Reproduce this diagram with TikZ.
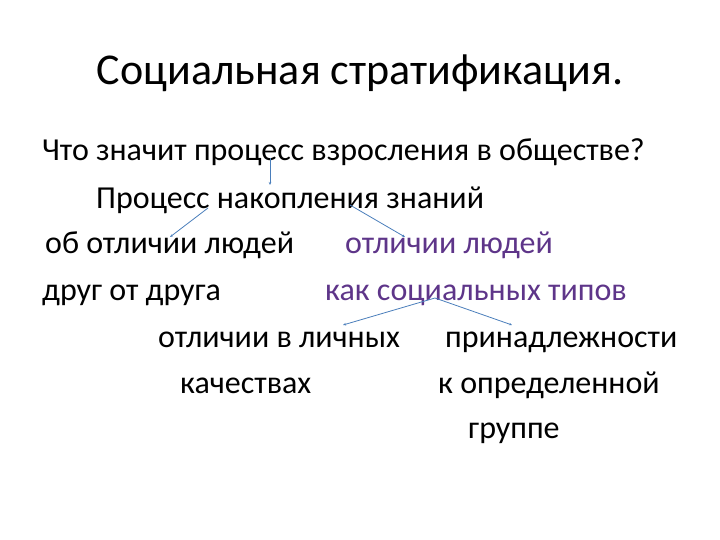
\documentclass[tikz,border=0pt]{standalone}
\usepackage{fontspec}
\setmainfont{Carlito}
\usetikzlibrary{arrows.meta}
\definecolor{lnblue}{HTML}{4A7EBB}
\definecolor{txtpurple}{HTML}{5E3589}
\begin{document}
\begin{tikzpicture}[x=1pt,y=-1pt,
  ttl/.style={font=\fontsize{44}{48}\selectfont, inner sep=0pt, anchor=base},
  txt/.style={font=\fontsize{32}{36}\selectfont, inner sep=0pt, anchor=base west},
  ptxt/.style={txt, text=txtpurple},
  conn/.style={draw=lnblue, line width=0.8pt, -{Stealth[length=3pt,width=2.5pt]}}]
\useasboundingbox (0,0) rectangle (720,540);
\node[ttl] (title) at (360,85) {Социальная стратификация.};
\node[txt] (l1) at (42,161) {Что значит процесс взросления в обществе?};
\node[txt] (l2) at (96,208) {Процесс накопления знаний};
\node[txt] (l3a) at (45,254) {об отличии людей};
\node[ptxt] (l3b) at (345,254) {отличии людей};
\node[txt] (l4a) at (42,300) {друг от друга};
\node[ptxt] (l4b) at (325,300) {как социальных типов};
\node[txt] (l5a) at (158,347) {отличии в личных};
\node[txt] (l5b) at (445,347) {принадлежности};
\node[txt] (l6a) at (180,393) {качествах};
\node[txt] (l6b) at (438,393) {к определенной};
\node[txt] (l7) at (468,438) {группе};
\coordinate (a1s) at (270,158);
\coordinate (a1e) at (270,185);
\coordinate (a2s) at (208,208);
\coordinate (a2e) at (170,237);
\coordinate (a3s) at (350,205);
\coordinate (a3e) at (405,237);
\coordinate (a4s) at (435,298);
\coordinate (a4l) at (343,325);
\coordinate (a4r) at (512,325);
\draw[conn] (a1s) -- (a1e);
\draw[conn] (a2s) -- (a2e);
\draw[conn] (a3s) -- (a3e);
\draw[conn] (a4s) -- (a4l);
\draw[conn] (a4s) -- (a4r);
\end{tikzpicture}
\end{document}
